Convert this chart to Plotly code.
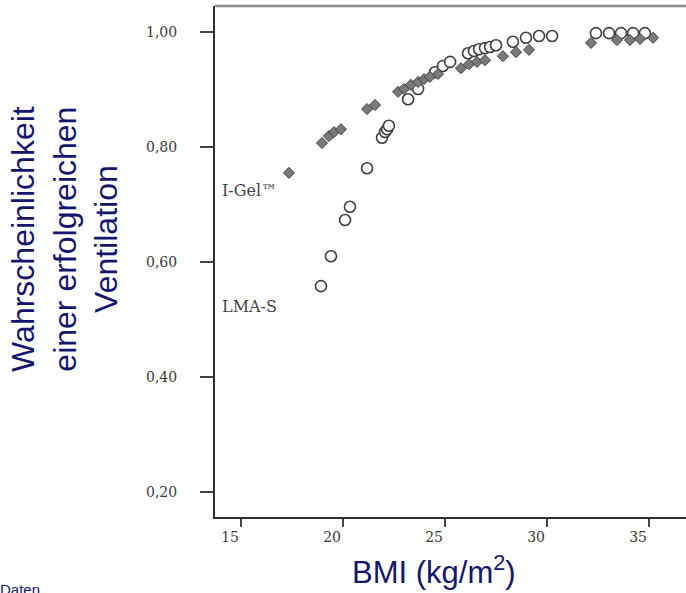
import plotly.graph_objects as go

# I-Gel (diamonds)
igel_bmi = [17.35, 18.97, 19.31, 19.56, 19.90, 21.18, 21.57, 22.70, 22.99, 23.33,
            23.68, 23.97, 24.26, 24.66, 25.78, 26.18, 26.57, 26.96, 27.84, 28.48,
            29.12, 32.16, 33.43, 34.07, 34.56, 35.20]
igel_prob = [0.755, 0.807, 0.819, 0.826, 0.831, 0.866, 0.873, 0.896, 0.901, 0.908,
             0.913, 0.918, 0.922, 0.927, 0.937, 0.944, 0.948, 0.951, 0.958, 0.965,
             0.969, 0.981, 0.986, 0.986, 0.988, 0.990]

# LMA-S (open circles)
lma_bmi = [18.92, 19.41, 20.10, 20.34, 21.18, 21.91, 22.06, 22.16, 22.25, 23.19,
           23.68, 24.51, 24.90, 25.25, 26.13, 26.42, 26.67, 26.96, 27.21, 27.50,
           28.33, 28.97, 29.61, 30.25, 32.40, 33.04, 33.63, 34.22, 34.80]
lma_prob = [0.558, 0.610, 0.673, 0.696, 0.763, 0.816, 0.826, 0.831, 0.837, 0.883,
            0.901, 0.930, 0.941, 0.948, 0.963, 0.967, 0.970, 0.972, 0.974, 0.977,
            0.983, 0.990, 0.993, 0.993, 0.998, 0.998, 0.998, 0.998, 0.998]

x_ticks = [15, 20, 25, 30, 35]
y_ticks = [0.2, 0.4, 0.6, 0.8, 1.0]
y_ticktext = ["0,20", "0,40", "0,60", "0,80", "1,00"]

navy = "#16166e"
tickfont = dict(family="DejaVu Serif", size=14, color="#3a3a3a")

fig = go.Figure()
fig.add_trace(go.Scatter(
    x=lma_bmi, y=lma_prob, mode="markers", name="LMA-S",
    marker=dict(symbol="circle", size=11, color="white",
                line=dict(color="#404040", width=1.6)),
))
fig.add_trace(go.Scatter(
    x=igel_bmi, y=igel_prob, mode="markers", name="I-Gel",
    marker=dict(symbol="diamond", size=8.5, color="#7a7a7a",
                line=dict(color="#404040", width=1)),
))

fig.update_layout(
    width=686, height=593,
    margin=dict(l=215, r=0, t=6, b=76),
    paper_bgcolor="white", plot_bgcolor="white",
    showlegend=False,
    xaxis=dict(range=[13.7255, 36.814], tickvals=x_ticks,
               ticktext=[str(v) for v in x_ticks],
               showgrid=False, zeroline=False,
               showline=True, linecolor="#333333", linewidth=2,
               ticks="outside", ticklen=8, tickwidth=2, tickcolor="#444444",
               ticklabelposition="outside left", ticklabelstandoff=6,
               tickfont=tickfont),
    yaxis=dict(range=[0.15652, 1.04522], tickvals=y_ticks, ticktext=y_ticktext,
               showgrid=False, zeroline=False,
               showline=True, linecolor="#333333", linewidth=2,
               ticks="outside", ticklen=13, tickwidth=1.5, tickcolor="#444444",
               ticklabelstandoff=20,
               tickfont=tickfont),
)

fig.add_shape(type="line", xref="paper", yref="paper", x0=0, x1=1, y0=1, y1=1,
              line=dict(color="#8c8c8c", width=2.5))

fig.add_annotation(text="I-Gel™", xref="x", yref="y", x=13.95, y=0.724,
                   xanchor="left", yanchor="middle", showarrow=False,
                   font=dict(family="DejaVu Serif", size=16, color="#444444"))
fig.add_annotation(text="LMA-S", xref="x", yref="y", x=13.95, y=0.523,
                   xanchor="left", yanchor="middle", showarrow=False,
                   font=dict(family="DejaVu Serif", size=16, color="#444444"))

fig.add_annotation(text="Wahrscheinlichkeit<br>einer erfolgreichen<br>Ventilation",
                   xref="paper", yref="paper", x=-0.3185, y=0.5442,
                   xanchor="center", yanchor="middle", textangle=-90,
                   showarrow=False, align="center",
                   font=dict(family="Liberation Sans", size=32, color=navy))
fig.add_annotation(text="BMI (kg/m<sup>2</sup>)", xref="paper", yref="paper",
                   x=0.465, y=-0.104, xanchor="center", yanchor="middle",
                   showarrow=False,
                   font=dict(family="Liberation Sans", size=31, color=navy))
fig.add_annotation(text="Daten", xref="paper", yref="paper",
                   x=-0.4607, y=-0.1213, xanchor="left", yanchor="top",
                   showarrow=False,
                   font=dict(family="Liberation Sans", size=15, color=navy))

fig.write_html("out.html", config={"displayModeBar": False},
               post_script="document.body.style.margin='0';document.body.style.overflow='hidden';")
